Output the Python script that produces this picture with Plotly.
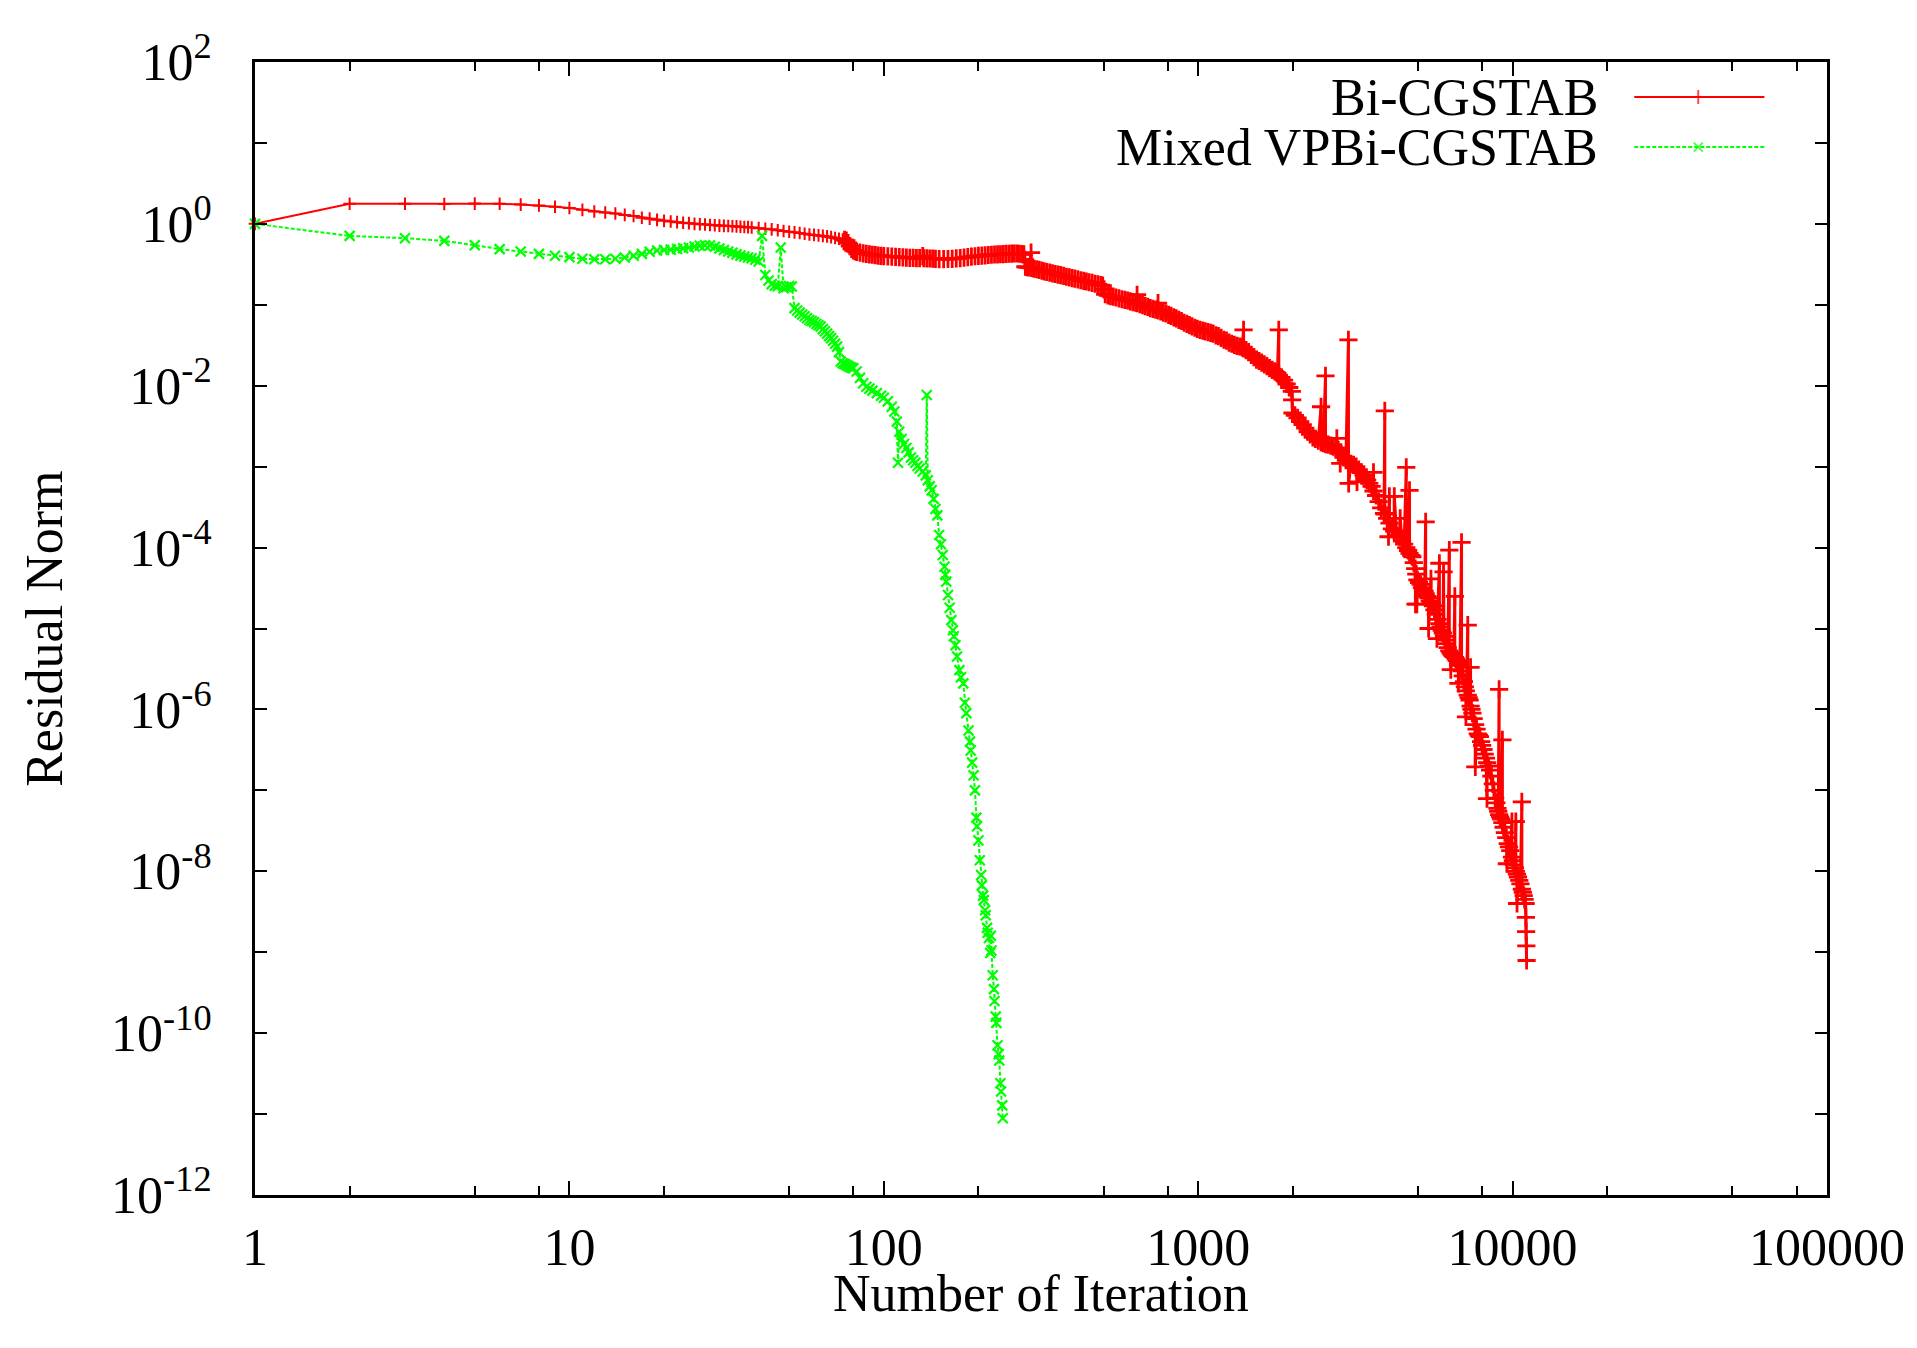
import plotly.graph_objects as go

# ---------------- data ----------------
bicg_iter = [1, 2, 3, 4, 5, 6, 7, 8, 9, 10, 11, 12, 13, 14, 15, 16, 17, 18, 19, 20,
             21, 22, 23, 24, 25, 26, 27, 28, 29, 30, 31, 32, 33, 34, 35, 36, 37,
             38, 40, 42, 44, 46, 48, 50, 52, 54, 56, 58, 60, 62, 64, 66, 68, 70, 72, 74, 75,
             76, 77, 78, 79, 80, 81, 82, 84, 86, 88, 90, 92, 94, 96, 98, 100, 103, 106, 109,
             112, 115, 118, 121, 124, 127, 130, 133, 134, 137, 140, 143, 146, 150, 155, 160,
             165, 170, 175, 180, 185, 190, 195, 200, 205, 210, 215, 220, 225, 230, 235, 240,
             245, 250, 255, 260, 265, 270, 275, 279, 281, 282, 285, 289, 294, 295, 300, 306,
             312, 318, 324, 330, 337, 344, 351, 358, 365, 373, 381, 389, 397, 405, 414, 423,
             432, 441, 450, 460, 470, 480, 490, 497, 502, 506, 516, 526, 537, 548, 560, 572,
             584, 596, 608, 620, 632, 639, 640, 652, 665, 678, 691, 704, 718, 732, 745, 746,
             760, 775, 790, 805, 820, 836, 852, 868, 885, 902, 920, 938, 956, 975, 994, 1013,
             1033, 1053, 1074, 1095, 1116, 1138, 1160, 1183, 1206, 1230, 1254, 1278, 1303,
             1328, 1354, 1380, 1394, 1395, 1420, 1447, 1475, 1503, 1532, 1562, 1592, 1623,
             1654, 1686, 1719, 1752, 1786, 1804, 1805, 1840, 1875, 1911, 1948, 1985, 1990,
             1995, 2030, 2070, 2110, 2150, 2190, 2230, 2270, 2315, 2360, 2410, 2459, 2460,
             2500, 2540, 2541, 2590, 2640, 2690, 2740, 2790, 2845, 2900, 2950, 3005, 3006,
             3010, 3060, 3120, 3180, 3240, 3300, 3360, 3420, 3447, 3500, 3560, 3610, 3611,
             3680, 3750, 3820, 3900, 3922, 3923, 3990, 4060, 4130, 4200, 4280, 4370, 4450,
             4520, 4590, 4591, 4650, 4700, 4701, 4760, 4800, 4850, 4900, 4940, 4980, 5040,
             5100, 5150, 5200, 5250, 5290, 5291, 5350, 5400, 5450, 5500, 5501, 5540, 5580,
             5640, 5700, 5770, 5850, 5851, 5900, 5950, 6000, 6050, 6100, 6150, 6220, 6290,
             6291, 6350, 6400, 6450, 6500, 6550, 6551, 6600, 6650, 6720, 6800, 6880, 6881,
             6940, 7000, 7050, 7100, 7200, 7201, 7250, 7300, 7350, 7351, 7400, 7450, 7520,
             7600, 7680, 7750, 7810, 7870, 7940, 8000, 8080, 8150, 8230, 8300, 8390, 8480,
             8560, 8650, 8720, 8800, 8880, 8950, 9000, 9060, 9061, 9130, 9200, 9280, 9281,
             9360, 9450, 9550, 9650, 9740, 9830, 9950, 9951, 10020, 10100, 10170, 10240,
             10241, 10320, 10400, 10500, 10590, 10700, 10701, 10780, 10850, 10920, 11000,
             11020, 11040, 11060, 11080]
bicg_res = [1.0, 1.77, 1.77, 1.76, 1.78, 1.77, 1.73, 1.69, 1.63, 1.57, 1.49, 1.42, 1.38, 1.34, 1.29, 1.25, 1.19, 1.16, 1.12, 1.09,
            1.07, 1.05, 1.03, 1.02, 1.0, 0.99, 0.98, 0.97, 0.96, 0.95, 0.945, 0.94, 0.935, 0.93, 0.92, 0.915, 0.91,
            0.90, 0.885, 0.87, 0.855, 0.835, 0.815, 0.80, 0.785, 0.77, 0.755, 0.74, 0.73, 0.72, 0.71, 0.70, 0.685, 0.67, 0.655, 0.64, 0.635,
            0.62, 0.58, 0.53, 0.49, 0.47, 0.46, 0.45, 0.44, 0.432, 0.425, 0.42, 0.415, 0.41, 0.405, 0.402, 0.40, 0.397, 0.394, 0.391,
            0.388, 0.385, 0.382, 0.38, 0.379, 0.378, 0.377, 0.40, 0.376, 0.374, 0.373, 0.371, 0.37, 0.367, 0.366, 0.368,
            0.37, 0.374, 0.378, 0.383, 0.388, 0.393, 0.398, 0.402, 0.406, 0.409, 0.412, 0.415, 0.418, 0.42, 0.421, 0.423,
            0.425, 0.427, 0.428, 0.43, 0.43, 0.427, 0.423, 0.42, 0.36, 0.295, 0.292, 0.29, 0.44, 0.286, 0.28, 0.275,
            0.27, 0.264, 0.259, 0.254, 0.249, 0.244, 0.24, 0.236, 0.232, 0.227, 0.222, 0.218, 0.214, 0.21, 0.206, 0.201,
            0.197, 0.194, 0.19, 0.186, 0.182, 0.179, 0.175, 0.172, 0.155, 0.135, 0.131, 0.128, 0.126, 0.123, 0.12, 0.117,
            0.115, 0.113, 0.11, 0.108, 0.106, 0.133, 0.105, 0.102, 0.099, 0.096, 0.094, 0.091, 0.089, 0.087, 0.105, 0.085,
            0.083, 0.08, 0.078, 0.075, 0.073, 0.07, 0.068, 0.065, 0.063, 0.06, 0.058, 0.056, 0.054, 0.052, 0.0505, 0.049,
            0.048, 0.047, 0.046, 0.045, 0.044, 0.042, 0.041, 0.039, 0.037, 0.036, 0.034, 0.033, 0.032,
            0.031, 0.0305, 0.0298, 0.049, 0.029, 0.0275, 0.026, 0.024, 0.0225, 0.021, 0.0202, 0.0193, 0.0184,
            0.0175, 0.0165, 0.0157, 0.015, 0.0142, 0.049, 0.0135, 0.0127, 0.0117, 0.0105, 0.0095, 0.0085, 0.0067,
            0.0046, 0.0043, 0.0040, 0.0036, 0.0033, 0.0030, 0.0027, 0.0025, 0.0023, 0.0022, 0.0021, 0.0055, 0.0020,
            0.00195, 0.0132, 0.0019, 0.00187, 0.00182, 0.00177, 0.0017, 0.0016, 0.0015, 0.0013, 0.0012, 0.0368, 0.0011,
            0.00062, 0.00108, 0.00105, 0.0010, 0.00092, 0.00085, 0.00078, 0.0007, 0.00068, 0.00062, 0.00057, 0.00085, 0.0005,
            0.00044, 0.00037, 0.00031, 0.000265, 0.00488, 0.00026, 0.00023, 0.0002, 0.00017, 0.00016, 0.00014, 0.000136, 0.00012,
            0.00011, 0.00098, 0.0001, 9.2e-5, 0.00051, 8.5e-5, 8e-5, 7.7e-5, 6.5e-5, 5.5e-5, 4.7e-5, 4.0e-5, 3.7e-5,
            3.5e-5, 3.2e-5, 3.0e-5, 2.9e-5, 2.08e-4, 2.7e-5, 2.5e-5, 2.4e-5, 2.2e-5, 4.1e-5, 2.1e-5, 2.0e-5, 1.9e-5,
            1.7e-5, 1.5e-5, 1.3e-5, 6.4e-5, 1.15e-5, 1.05e-5, 9.5e-6, 8.8e-6, 8e-6, 7.2e-6, 6.5e-6, 5.8e-6, 9.3e-5,
            5.3e-6, 5e-6, 4.8e-6, 4.6e-6, 4.5e-6, 2.5e-5, 4.4e-6, 4.2e-6, 4e-6, 3.7e-6, 3.5e-6, 1.16e-4, 3.0e-6,
            2.6e-6, 2.2e-6, 1.9e-6, 1.7e-6, 1.1e-5, 1.5e-6, 1.4e-6, 1.3e-6, 3.3e-6, 1.1e-6, 1e-6, 9e-7, 7.7e-7,
            6.5e-7, 5.7e-7, 5e-7, 4.8e-7, 4.6e-7, 4e-7, 3.6e-7, 3.2e-7, 2.8e-7, 2.5e-7, 2.2e-7, 2e-7, 1.78e-7,
            1.5e-7, 1.2e-7, 1e-7, 8e-8, 7e-8, 6e-8, 5.5e-8, 1.77e-6, 5e-8, 4.7e-8, 4.4e-8, 4.2e-7, 4e-8,
            3.5e-8, 3e-8, 2.6e-8, 2.2e-8, 2e-8, 1.8e-8, 4.1e-8, 1.5e-8, 1.35e-8, 1.2e-8, 1.1e-8, 4.1e-8,
            1e-8, 9.2e-9, 8.5e-9, 7.7e-9, 7e-9, 7.2e-8, 6e-9, 5.5e-9, 5e-9, 4.5e-9, 4e-9,
            2.7e-9, 1.8e-9, 1.2e-9, 7.9e-10]
# further spikes / dips of the Bi-CGSTAB run read from the dense tail
bicg_extra_iter = [2760, 2830, 3200, 4030, 4055, 4205, 4390, 4910, 4960, 5405, 5745, 6030,
                   6360, 6725, 7105, 7610, 8290, 9590, 10330]
bicg_extra_res = [0.00224, 0.0011, 0.00065, 0.000136, 0.00043, 0.00043, 0.00023, 2.0e-5, 2.0e-5,
                  1.0e-5, 7.5e-6, 5.0e-5, 3.1e-6, 2.1e-6, 8.1e-7, 1.95e-7, 7.9e-8, 1.24e-8, 4.0e-9]

vp_iter = [1, 2, 3, 4, 5, 6, 7, 8, 9, 10, 11, 12, 13, 14, 15, 16, 17, 18, 19, 20,
           21, 22, 23, 24, 25, 26, 27, 28, 29, 30, 31, 32, 33, 34, 35, 36, 37, 38, 39, 40,
           41, 42, 43, 44, 45, 46, 47, 48, 49, 50, 51, 52, 53, 54, 55, 56, 57, 58, 59, 60,
           61, 62, 63, 64, 65, 66, 67, 68, 69, 70, 71, 72, 73, 74, 75, 76, 77, 78, 79, 80,
           82, 84, 86, 88, 90, 92, 95, 98, 100, 103, 106, 108, 110, 111, 112, 114, 116, 118,
           120, 122, 124, 126, 128, 130, 133, 136, 137, 138, 140, 142, 144, 146, 148, 150,
           152, 154, 156, 157, 158, 160, 162, 164, 166, 167, 169, 171, 174, 176, 179, 181,
           183, 186, 188, 189, 191, 193, 195, 197, 198, 200, 202, 204, 205, 207, 208, 210,
           211, 213, 214, 216, 218, 219, 220, 222, 224, 225, 227, 228, 230, 232, 233, 235,
           236, 238, 239]
vp_res = [1.0, 0.711, 0.665, 0.616, 0.545, 0.487, 0.455, 0.426, 0.403, 0.388, 0.37, 0.366, 0.366, 0.37, 0.384, 0.403, 0.426, 0.451, 0.468, 0.476,
          0.48, 0.49, 0.50, 0.51, 0.525, 0.535, 0.545, 0.54, 0.52, 0.496, 0.475, 0.455, 0.44, 0.42, 0.405, 0.395, 0.385, 0.375, 0.36, 0.342,
          0.711, 0.234, 0.20, 0.18, 0.172, 0.17, 0.51, 0.16, 0.165, 0.17, 0.168, 0.091, 0.085, 0.08, 0.076, 0.072, 0.068, 0.065, 0.063, 0.061,
          0.058, 0.056, 0.054, 0.05, 0.047, 0.044, 0.041, 0.0386, 0.036, 0.033, 0.0304, 0.026, 0.0199, 0.019, 0.0185, 0.018, 0.0175, 0.017, 0.0167, 0.0164,
          0.015, 0.0125, 0.0107, 0.0097, 0.0092, 0.0087, 0.0081, 0.0075, 0.0071, 0.0064, 0.0055, 0.0048, 0.0036, 0.00112, 0.0027, 0.0022, 0.0019, 0.0017,
          0.0015, 0.0013, 0.0012, 0.00112, 0.00102, 0.00095, 0.00087, 0.00078, 0.00769, 0.00068, 0.00057, 0.00051, 0.0004, 0.0003, 0.00025, 0.000143,
          1.1e-4, 8.1e-5, 5.8e-5, 4.6e-5, 3.8e-5, 2.6e-5, 1.8e-5, 1.27e-5, 9.5e-6, 8e-6, 6.2e-6, 4.5e-6, 3.06e-6, 2.5e-6, 2.1e-6, 1.21e-6,
          9e-7, 5.5e-7, 4e-7, 3.1e-7, 2.2e-7, 1.54e-7, 1.0e-7, 4.6e-8, 3.6e-8, 2.4e-8, 1.37e-8, 9e-9, 6.7e-9, 5e-9, 4.4e-9, 3.3e-9,
          2.86e-9, 2.0e-9, 1.74e-9, 1.5e-9, 9.8e-10, 1.6e-9, 1.05e-9, 5.2e-10, 3.5e-10, 2.5e-10, 1.6e-10, 1.34e-10, 7.1e-11, 5.5e-11, 4.6e-11, 2.4e-11,
          1.9e-11, 1.28e-11, 8.9e-12]

series_names = ["Bi-CGSTAB", "Mixed VPBi-CGSTAB"]
x_tick_vals = [1, 10, 100, 1000, 10000, 100000]
x_tick_text = ["1", "10", "100", "1000", "10000", "100000"]
x_minor_vals = [2, 5, 8, 20, 50, 80, 200, 500, 800, 2000, 5000, 8000, 20000, 50000, 80000]
y_tick_vals = [1e2, 1e1, 1e0, 1e-1, 1e-2, 1e-3, 1e-4, 1e-5, 1e-6, 1e-7, 1e-8, 1e-9, 1e-10, 1e-11, 1e-12]
y_tick_text = ["10<sup>2</sup>", "", "10<sup>0</sup>", "", "10<sup>-2</sup>", "", "10<sup>-4</sup>", "",
               "10<sup>-6</sup>", "", "10<sup>-8</sup>", "", "10<sup>-10</sup>", "", "10<sup>-12</sup>"]

# merge the Bi-CGSTAB readings into one iteration-ordered series
_pairs = sorted(zip(bicg_iter + bicg_extra_iter, bicg_res + bicg_extra_res), key=lambda p: p[0])
bicg_x = [p[0] for p in _pairs]
bicg_y = [p[1] for p in _pairs]

# ---------------- styling ----------------
FONT = "Liberation Serif, Times New Roman, serif"
RED = "#ff0000"
GREEN = "#00ff00"
FS = 52

fig = go.Figure()

# Bi-CGSTAB: sparse early part (thin) and the dense band after the first drop
split = bicg_x.index(75)
fig.add_trace(go.Scatter(
    x=bicg_x[:split + 1], y=bicg_y[:split + 1], mode="lines+markers", name=series_names[0],
    line=dict(color=RED, width=2),
    marker=dict(symbol="cross-thin", size=9, line=dict(color=RED, width=2)),
    cliponaxis=False, showlegend=False))
fig.add_trace(go.Scatter(
    x=bicg_x[split:], y=bicg_y[split:], mode="lines+markers", name=series_names[0],
    line=dict(color=RED, width=3),
    marker=dict(symbol="cross-thin", size=13, line=dict(color=RED, width=2.8)),
    cliponaxis=False, showlegend=False))

fig.add_trace(go.Scatter(
    x=vp_iter, y=vp_res, mode="lines+markers", name=series_names[1],
    line=dict(color=GREEN, width=2, dash="4px,2px"),
    marker=dict(symbol="x-thin", size=10, line=dict(color=GREEN, width=2.2)),
    cliponaxis=False, showlegend=False))

# legend samples (gnuplot style: text left, sample right) on a hidden overlay axis
leg_x = [0.8774, 0.9181, 0.9602]
leg_rows = [0.9690, 0.9249]
fig.add_trace(go.Scatter(
    x=leg_x, y=[leg_rows[0]] * 3, xaxis="x2", yaxis="y2", mode="lines+markers",
    line=dict(color=RED, width=2),
    marker=dict(symbol="cross-thin", size=[0, 10, 0], line=dict(color=RED, width=2)),
    showlegend=False, hoverinfo="skip", cliponaxis=False))
fig.add_trace(go.Scatter(
    x=leg_x, y=[leg_rows[1]] * 3, xaxis="x2", yaxis="y2", mode="lines+markers",
    line=dict(color=GREEN, width=2, dash="4px,2px"),
    marker=dict(symbol="x-thin", size=[0, 9, 0], line=dict(color=GREEN, width=2)),
    showlegend=False, hoverinfo="skip", cliponaxis=False))

annotations = []
for name, yy in zip(series_names, leg_rows):
    annotations.append(dict(text=name, xref="paper", yref="paper", x=0.8558, y=yy,
                            xanchor="right", yanchor="middle", showarrow=False,
                            font=dict(family=FONT, size=FS, color="black")))
annotations.append(dict(text="Number of Iteration", xref="paper", yref="paper",
                        x=0.5, y=-0.087, xanchor="center", yanchor="middle",
                        showarrow=False, font=dict(family=FONT, size=FS, color="black")))
annotations.append(dict(text="Residual Norm", xref="paper", yref="paper",
                        x=-0.134, y=0.5, xanchor="center", yanchor="middle", textangle=-90,
                        showarrow=False, font=dict(family=FONT, size=FS, color="black")))

fig.update_layout(
    width=1917, height=1348,
    margin=dict(l=247, r=98, t=54, b=161),
    paper_bgcolor="white", plot_bgcolor="white",
    showlegend=False,
    annotations=annotations,
    xaxis=dict(type="log", range=[0, 5], showgrid=False, zeroline=False,
               showline=True, linecolor="black", linewidth=3, mirror="allticks",
               ticks="inside", ticklen=14, tickwidth=2, tickcolor="black",
               tickvals=x_tick_vals, ticktext=x_tick_text, ticklabelstandoff=5,
               tickfont=dict(family=FONT, size=FS, color="black"),
               minor=dict(tickvals=x_minor_vals, ticks="inside", ticklen=9,
                          tickwidth=2, tickcolor="black", showgrid=False)),
    yaxis=dict(type="log", range=[-12, 2], showgrid=False, zeroline=False,
               showline=True, linecolor="black", linewidth=3, mirror="allticks",
               ticks="inside", ticklen=12, tickwidth=2, tickcolor="black",
               tickvals=y_tick_vals, ticktext=y_tick_text, ticklabelstandoff=30,
               tickfont=dict(family=FONT, size=FS, color="black")),
    xaxis2=dict(overlaying="x", range=[0, 1], visible=False, fixedrange=True),
    yaxis2=dict(overlaying="y", range=[0, 1], visible=False, fixedrange=True),
)

fig.write_html("out.html")
